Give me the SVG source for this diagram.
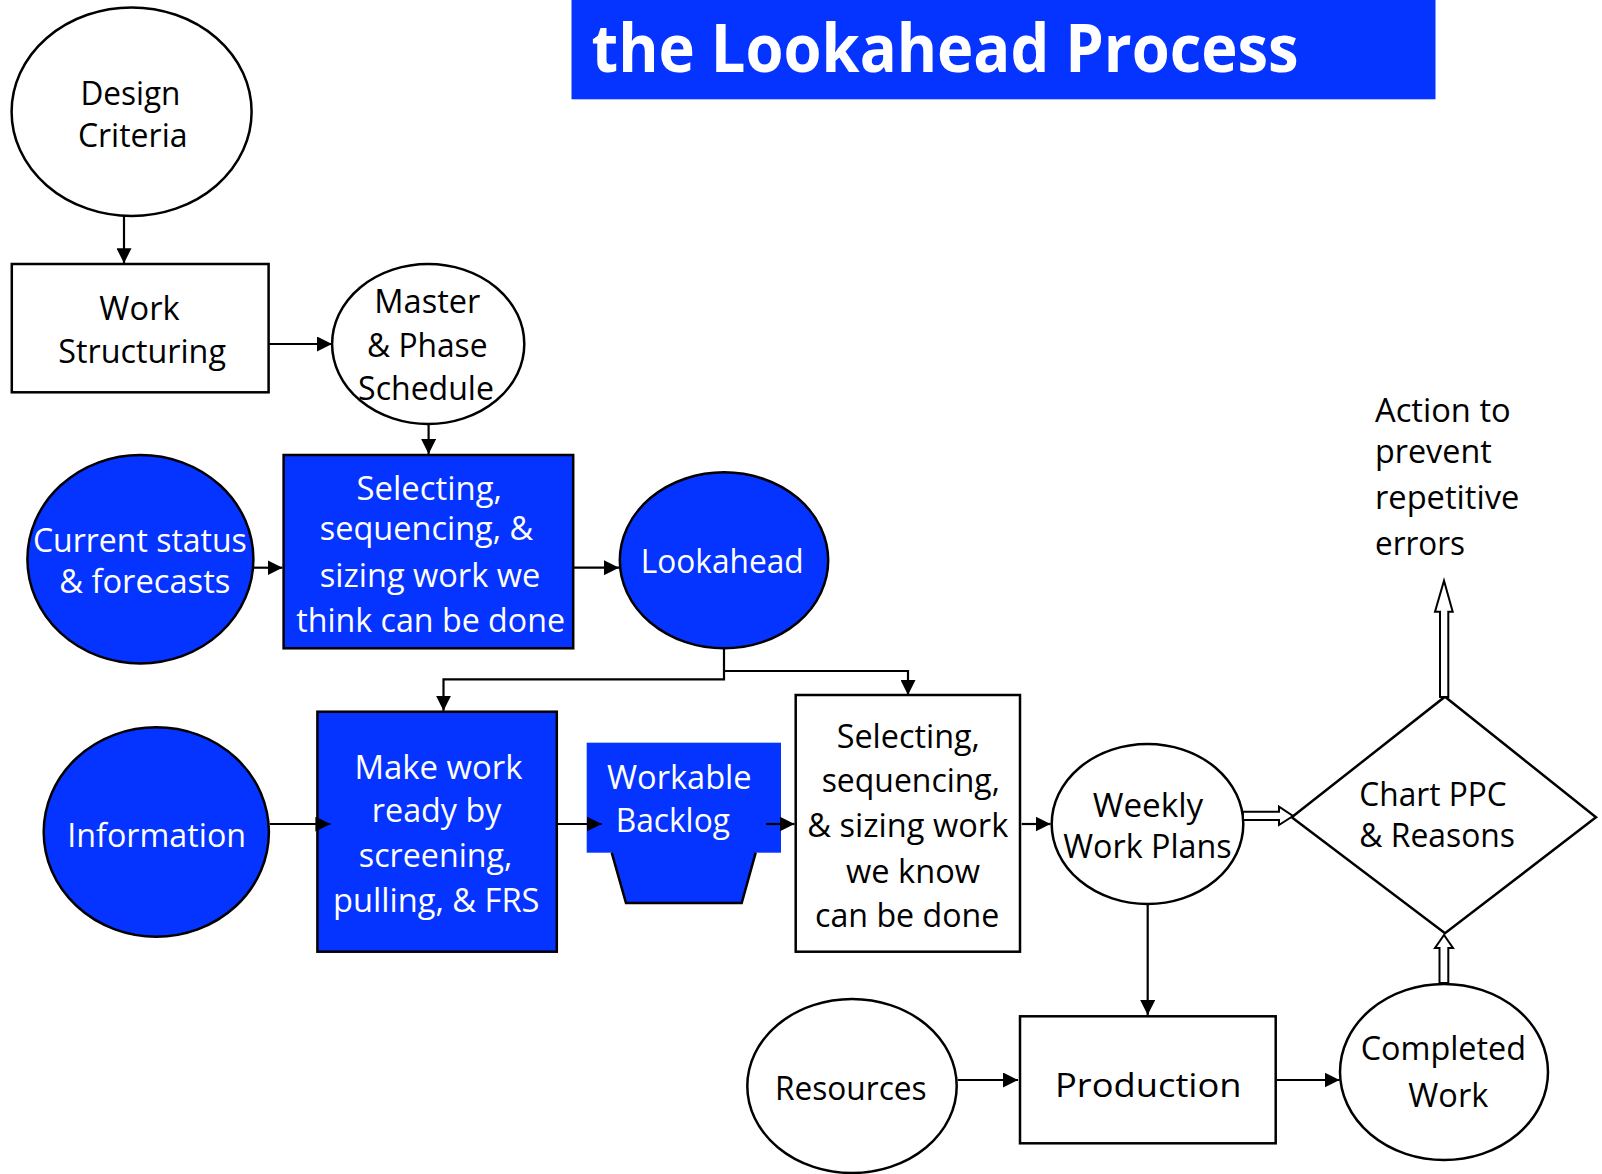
<svg xmlns="http://www.w3.org/2000/svg" width="1602" height="1174" viewBox="0 0 1602 1174">
<defs>
<marker id="ah" markerUnits="userSpaceOnUse" markerWidth="15" markerHeight="15" viewBox="0 0 15 15" refX="15" refY="7.5" orient="auto">
<path d="M0,0 L15,7.5 L0,15 z" fill="#000"/>
</marker>
<style>
.n{stroke:#000;stroke-width:2.5;fill:#fff}
.b{stroke:#000;stroke-width:2.5;fill:#0533FF}
.t{font-family:"Open Sans","Liberation Sans",sans-serif;font-size:32px;fill:#000;text-anchor:middle}
.w{fill:#fff}
.s{text-anchor:start}
.c{fill:none;stroke:#000;stroke-width:2.2}
.h{fill:#fff;stroke:#000;stroke-width:2}
</style>
</defs>
<rect width="1602" height="1174" fill="#fff"/>

<g id="title">
<rect x="571.5" y="0" width="864" height="99.3" fill="#0533FF"/>
<text x="591.6" y="72" font-family="'Open Sans','Liberation Sans',sans-serif" font-weight="bold" font-size="66" fill="#fff" textLength="707" lengthAdjust="spacingAndGlyphs">the Lookahead Process</text>
</g>

<g id="design-criteria">
<ellipse class="n" cx="131.6" cy="111.7" rx="120" ry="104.3"/>
<text class="t" x="130.4" y="105" textLength="100" lengthAdjust="spacingAndGlyphs">Design</text>
<text class="t" x="132.7" y="146.7" textLength="109.6" lengthAdjust="spacingAndGlyphs">Criteria</text>
</g>

<g id="work-structuring">
<rect class="n" x="11.8" y="264" width="256.8" height="128.3"/>
<text class="t" x="139.5" y="320" textLength="80.3" lengthAdjust="spacingAndGlyphs">Work</text>
<text class="t" x="142.1" y="362.7" textLength="167.8" lengthAdjust="spacingAndGlyphs">Structuring</text>
</g>

<g id="master-phase-schedule">
<ellipse class="n" cx="428.2" cy="344" rx="96.1" ry="80"/>
<text class="t" x="427.3" y="313.3" textLength="106" lengthAdjust="spacingAndGlyphs">Master</text>
<text class="t" x="427.3" y="356.7" textLength="120.5" lengthAdjust="spacingAndGlyphs">&amp; Phase</text>
<text class="t" x="426" y="400" textLength="135.8" lengthAdjust="spacingAndGlyphs">Schedule</text>
</g>

<g id="current-status">
<ellipse class="b" cx="140.4" cy="559.2" rx="113" ry="104.2"/>
<text class="t w" x="139.9" y="551.7" textLength="213.9" lengthAdjust="spacingAndGlyphs">Current status</text>
<text class="t w" x="144.8" y="593.3" textLength="171.2" lengthAdjust="spacingAndGlyphs">&amp; forecasts</text>
</g>

<g id="selecting-think">
<rect class="b" x="283.6" y="455" width="289.6" height="193.3"/>
<text class="t w" x="429.3" y="500" textLength="145.4" lengthAdjust="spacingAndGlyphs">Selecting,</text>
<text class="t w" x="426.5" y="540" textLength="213.4" lengthAdjust="spacingAndGlyphs">sequencing, &amp;</text>
<text class="t w" x="430" y="586.7" textLength="220.5" lengthAdjust="spacingAndGlyphs">sizing work we</text>
<text class="t w" x="430.6" y="631.7" textLength="268.8" lengthAdjust="spacingAndGlyphs">think can be done</text>
</g>

<g id="lookahead">
<ellipse class="b" cx="724" cy="560.3" rx="104.2" ry="88"/>
<text class="t w" x="722.2" y="572.7" textLength="162.9" lengthAdjust="spacingAndGlyphs">Lookahead</text>
</g>

<g id="information">
<ellipse class="b" cx="156.3" cy="832" rx="112.6" ry="104.7"/>
<text class="t w" x="156.7" y="846.7" textLength="178.7" lengthAdjust="spacingAndGlyphs">Information</text>
</g>

<g id="make-work-ready">
<rect class="b" x="317.4" y="711.7" width="239.4" height="240"/>
<text class="t w" x="438.4" y="779.3" textLength="168" lengthAdjust="spacingAndGlyphs">Make work</text>
<text class="t w" x="436.6" y="821.7" textLength="129.5" lengthAdjust="spacingAndGlyphs">ready by</text>
<text class="t w" x="435.6" y="866.7" textLength="153.5" lengthAdjust="spacingAndGlyphs">screening,</text>
<text class="t w" x="436.2" y="911.7" textLength="206.4" lengthAdjust="spacingAndGlyphs">pulling, &amp; FRS</text>
</g>

<g id="workable-backlog">
<rect x="586.7" y="742.7" width="194.3" height="110" fill="#0533FF"/>
<polygon points="611.7,852 755.7,852 741.7,903 626,903" fill="#0533FF"/>
<polyline points="611.7,852.7 626,903 741.7,903 755.7,852.7" fill="none" stroke="#000" stroke-width="2.5"/>
<text class="t w" x="679.3" y="789" textLength="144.7" lengthAdjust="spacingAndGlyphs">Workable</text>
<text class="t w" x="672.8" y="831.7" textLength="114.3" lengthAdjust="spacingAndGlyphs">Backlog</text>
</g>

<g id="selecting-know">
<rect class="n" x="795.7" y="695" width="224.3" height="256.7"/>
<text class="t" x="908.3" y="748.3" textLength="143.3" lengthAdjust="spacingAndGlyphs">Selecting,</text>
<text class="t" x="910.8" y="791.7" textLength="178.3" lengthAdjust="spacingAndGlyphs">sequencing,</text>
<text class="t" x="907.8" y="836.7" textLength="201" lengthAdjust="spacingAndGlyphs">&amp; sizing work</text>
<text class="t" x="913" y="882.7" textLength="134" lengthAdjust="spacingAndGlyphs">we know</text>
<text class="t" x="907.2" y="927.3" textLength="184.3" lengthAdjust="spacingAndGlyphs">can be done</text>
</g>

<g id="weekly-work-plans">
<ellipse class="n" cx="1147.5" cy="824" rx="95.8" ry="80"/>
<text class="t" x="1148" y="816.7" textLength="110.6" lengthAdjust="spacingAndGlyphs">Weekly</text>
<text class="t" x="1147.5" y="858.3" textLength="168.4" lengthAdjust="spacingAndGlyphs">Work Plans</text>
</g>

<g id="chart-ppc">
<polygon class="n" points="1445,696.7 1596,817.3 1445,933.3 1291.7,817.3"/>
<text class="t s" x="1359.3" y="806" textLength="147.4" lengthAdjust="spacingAndGlyphs">Chart PPC</text>
<text class="t s" x="1359.3" y="846.7" textLength="155.7" lengthAdjust="spacingAndGlyphs">&amp; Reasons</text>
</g>

<g id="action-text">
<text class="t s" x="1375" y="421.7" textLength="135.7" lengthAdjust="spacingAndGlyphs">Action to</text>
<text class="t s" x="1375" y="462.7" textLength="116.7" lengthAdjust="spacingAndGlyphs">prevent</text>
<text class="t s" x="1375" y="509.3" textLength="144.3" lengthAdjust="spacingAndGlyphs">repetitive</text>
<text class="t s" x="1375" y="555" textLength="90" lengthAdjust="spacingAndGlyphs">errors</text>
</g>

<g id="resources">
<ellipse class="n" cx="852" cy="1086" rx="104.7" ry="87"/>
<text class="t" x="850.8" y="1100" textLength="151.7" lengthAdjust="spacingAndGlyphs">Resources</text>
</g>

<g id="production">
<rect class="n" x="1020" y="1016.3" width="255.7" height="127"/>
<text class="t" x="1148.3" y="1096.7" font-size="37" textLength="186.7" lengthAdjust="spacingAndGlyphs">Production</text>
</g>

<g id="completed-work">
<ellipse class="n" cx="1444" cy="1072" rx="104" ry="88"/>
<text class="t" x="1443.3" y="1060" textLength="165.3" lengthAdjust="spacingAndGlyphs">Completed</text>
<text class="t" x="1448.3" y="1106.7" textLength="80" lengthAdjust="spacingAndGlyphs">Work</text>
</g>

<g id="connectors">
<path class="c" marker-end="url(#ah)" d="M124,216 V263.3"/>
<path class="c" marker-end="url(#ah)" d="M268.6,344 H332"/>
<path class="c" marker-end="url(#ah)" d="M428.6,424 V454"/>
<path class="c" marker-end="url(#ah)" d="M253.4,567.7 H282.5"/>
<path class="c" marker-end="url(#ah)" d="M573.2,567.7 H619"/>
<path class="c" marker-end="url(#ah)" d="M724,648.3 V679.3 H443.5 V710.7"/>
<path class="c" marker-end="url(#ah)" d="M724,671 H908 V695"/>
<path class="c" marker-end="url(#ah)" d="M270,824 H330.4"/>
<path class="c" marker-end="url(#ah)" d="M556.8,824 H601.7"/>
<path class="c" marker-end="url(#ah)" d="M766,824 H794.5"/>
<path class="c" marker-end="url(#ah)" d="M1021.7,824 H1050.5"/>
<path class="c" marker-end="url(#ah)" d="M1147.7,904 V1015"/>
<path class="c" marker-end="url(#ah)" d="M957.7,1080 H1018"/>
<path class="c" marker-end="url(#ah)" d="M1277,1080 H1339.5"/>
<polygon class="h" points="1243,811.7 1279,811.7 1279,806.7 1293,816 1279,825 1279,820 1243,820"/>
<polygon class="h" points="1440,697 1440,611.7 1435,611.7 1444,580.7 1452.7,611.7 1448.3,611.7 1448.3,697"/>
<polygon class="h" points="1439.5,983 1439.5,948 1435,948 1444,935 1453,948 1448.3,948 1448.3,983"/>
</g>
</svg>
